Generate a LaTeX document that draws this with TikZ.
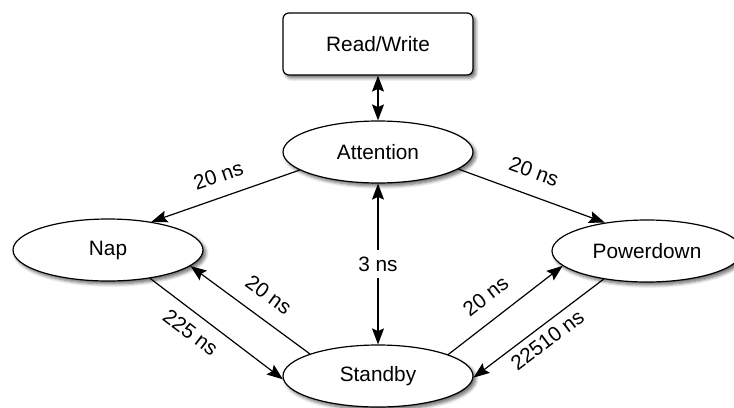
\documentclass[tikz,border=0pt]{standalone}
\usepackage{fontspec}
\setmainfont{Liberation Sans}
\usetikzlibrary{arrows.meta,shapes.geometric,shadows.blur}

\begin{document}
\begin{tikzpicture}[x=0.75pt,y=-0.75pt,
  font=\fontsize{15.6}{18}\selectfont,
  line width=0.9pt,
  >={Stealth[length=12pt,width=9pt,inset=2pt]},
  softshadow/.style={blur shadow={shadow xshift=2pt,shadow yshift=-2.2pt,shadow blur steps=6,shadow blur radius=2.5pt,shadow opacity=60}},
  state/.style={ellipse,draw,fill=white,minimum width=142.5pt,minimum height=46.5pt,inner sep=0pt,softshadow},
  modebox/.style={rectangle,draw,fill=white,rounded corners=4.5pt,minimum width=142.5pt,minimum height=46.5pt,inner sep=0pt,softshadow},
  upperlbl/.style={sloped,anchor=south,inner xsep=0pt,inner ysep=#1},
  lowerlbl/.style={sloped,anchor=north,inner xsep=0pt,inner ysep=#1}
]
\useasboundingbox (0,0) rectangle (734,407);

% states
\node[modebox] (rw)  at (378,44)  {Read/Write};
\node[state]   (att) at (378,152) {Attention};
\node[state]   (nap) at (108,250) {Nap};
\node[state]   (pd)  at (647,251) {Powerdown};
\node[state]   (stb) at (378,376) {Standby};

% transitions
\draw[<->] (rw.south) -- (att.north);
\draw[<->] (att.south) -- node[fill=white,inner sep=5pt] (l3) {3 ns} (stb.north);

\draw[->] (att.193) -- node[upperlbl=10.3pt,pos=0.5] (l1) {20 ns} (nap.33);
\draw[->] (att.348) -- node[upperlbl=12pt,pos=0.46] (l2) {20 ns} (pd.146.6);

\draw[->] (stb.162) -- node[upperlbl=11.5pt,pos=0.46] (l4) {20 ns} (nap.349.6);
\draw[->] (nap.326) -- node[lowerlbl=8pt,pos=0.39] (l5) {225 ns} (stb.182);

\draw[->] (stb.17.7) -- node[upperlbl=11.3pt,pos=0.45] (l6) {20 ns} (pd.190.7);
\draw[->] (pd.213.4) -- node[lowerlbl=4.9pt,pos=0.5] (l7) {22510 ns} (stb.359);
\end{tikzpicture}
\end{document}
